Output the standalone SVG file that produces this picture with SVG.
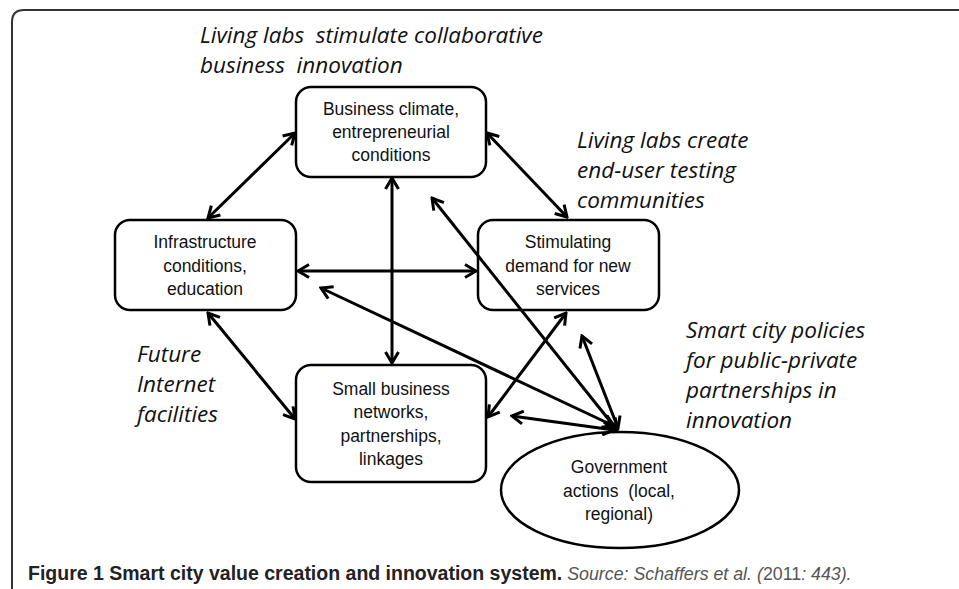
<svg xmlns="http://www.w3.org/2000/svg" width="959" height="589" viewBox="0 0 959 589">
<style>
text{white-space:pre}
.box{fill:#fff;stroke:#000;stroke-width:2.5}
.nt{font-family:"Liberation Sans",Arial,sans-serif;font-size:17.5px;fill:#111;text-anchor:middle}
.lab{font-family:"Open Sans","Liberation Sans",sans-serif;font-style:italic;font-size:22.5px;fill:#111}
.con line{stroke:#000;stroke-width:3;marker-start:url(#ah);marker-end:url(#ah)}
.cap{font-family:"Liberation Sans",Arial,sans-serif;font-size:19.5px}
.src{fill:#555;font-size:17.8px}
</style>
<defs>
<marker id="ah" viewBox="0 0 16 16" refX="14" refY="8" markerWidth="16" markerHeight="16" markerUnits="userSpaceOnUse" orient="auto-start-reverse">
<path d="M3,1.5 L14,8 L3,14.5" fill="none" stroke="#000" stroke-width="3" stroke-linejoin="miter"/>
</marker>
</defs>
<rect width="959" height="589" fill="#fff"/>
<path d="M12,589 V22 Q12,10 24,10 H959" fill="none" stroke="#333" stroke-width="2"/>

<g id="labels">
<text class="lab" x="200" y="43" xml:space="preserve">Living labs  stimulate collaborative</text>
<text class="lab" x="200" y="73" xml:space="preserve">business  innovation</text>
<text class="lab" x="577" y="148">Living labs create</text>
<text class="lab" x="577" y="178">end-user testing</text>
<text class="lab" x="577" y="208">communities</text>
<text class="lab" x="686" y="338">Smart city policies</text>
<text class="lab" x="686" y="368">for public-private</text>
<text class="lab" x="686" y="398">partnerships in</text>
<text class="lab" x="686" y="428">innovation</text>
<text class="lab" x="137" y="362">Future</text>
<text class="lab" x="137" y="392">Internet</text>
<text class="lab" x="137" y="422">facilities</text>
</g>

<g id="business">
<rect class="box" x="296" y="87" width="190" height="90" rx="15"/>
<text class="nt" x="391" y="115">Business climate,</text>
<text class="nt" x="391" y="138">entrepreneurial</text>
<text class="nt" x="391" y="161">conditions</text>
</g>
<g id="infrastructure">
<rect class="box" x="115" y="220" width="181" height="90" rx="15"/>
<text class="nt" x="205" y="248">Infrastructure</text>
<text class="nt" x="205" y="272">conditions,</text>
<text class="nt" x="205" y="295">education</text>
</g>
<g id="stimulating">
<rect class="box" x="478" y="220" width="181" height="90" rx="15"/>
<text class="nt" x="568" y="248">Stimulating</text>
<text class="nt" x="568" y="272">demand for new</text>
<text class="nt" x="568" y="295">services</text>
</g>
<g id="smallbusiness">
<rect class="box" x="296" y="365" width="190" height="117" rx="15"/>
<text class="nt" x="391" y="395">Small business</text>
<text class="nt" x="391" y="418">networks,</text>
<text class="nt" x="391" y="442">partnerships,</text>
<text class="nt" x="391" y="465">linkages</text>
</g>
<g id="government">
<ellipse class="box" cx="620" cy="490" rx="119" ry="58"/>
<text class="nt" x="619" y="473">Government</text>
<text class="nt" x="619" y="497" xml:space="preserve">actions  (local,</text>
<text class="nt" x="619" y="520">regional)</text>
</g>

<g id="connectors" class="con">
<line x1="295" y1="133" x2="208" y2="218"/>
<line x1="487" y1="133" x2="567" y2="217"/>
<line x1="392" y1="178" x2="392" y2="363"/>
<line x1="298" y1="271" x2="476" y2="271"/>
<line x1="208" y1="313" x2="295" y2="419"/>
<line x1="566" y1="313" x2="488" y2="417"/>
<line x1="321" y1="288" x2="614" y2="426"/>
<line x1="432" y1="198" x2="617" y2="430"/>
<line x1="582" y1="336" x2="618" y2="428"/>
<line x1="512" y1="416" x2="614" y2="430"/>
</g>

<text class="cap" x="28" y="580"><tspan font-weight="bold" fill="#222">Figure 1 Smart city value creation and innovation system.</tspan><tspan class="src" font-style="italic"> Source: Schaffers et al. (</tspan><tspan class="src">2011</tspan><tspan class="src" font-style="italic">: 443).</tspan></text>
</svg>
